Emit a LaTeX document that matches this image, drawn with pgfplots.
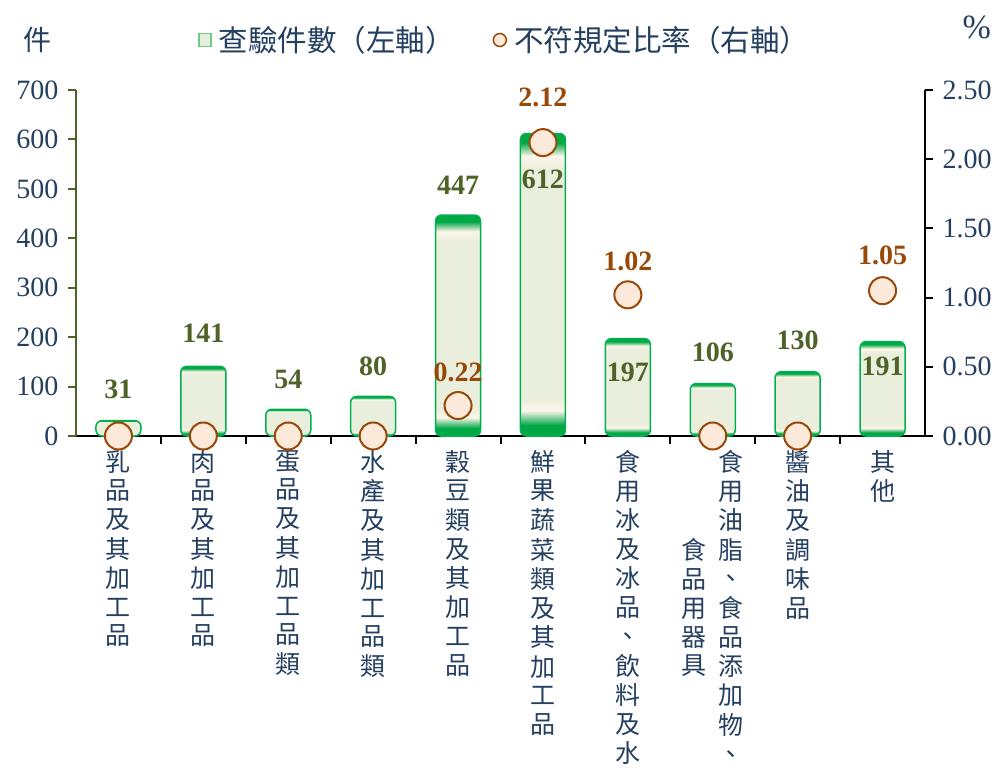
\documentclass[border=0pt]{standalone}
\usepackage{pgfplots}
\usepackage{pgfplotstable}
\pgfplotsset{compat=1.18}
\usepackage{fontspec}
\setmainfont{Liberation Serif}
\newfontfamily\cjk{Noto Sans CJK TC}
\definecolor{navy}{HTML}{243F60}
\definecolor{olivec}{HTML}{4F6228}
\definecolor{barfill}{HTML}{EAEEDC}
\definecolor{bardraw}{HTML}{00B050}
\definecolor{bardark}{HTML}{00A846}
\definecolor{cream}{HTML}{FDF5EA}
\definecolor{legfill}{HTML}{E6EEDC}
\definecolor{legdraw}{HTML}{6CCB8A}
\definecolor{mfill}{HTML}{FDE9D9}
\definecolor{mdraw}{HTML}{984807}
\pgfdeclareverticalshading{barshade}{100bp}{color(0bp)=(bardark); color(25bp)=(bardark); color(26.8bp)=(bardark); color(29.2bp)=(cream); color(31.2bp)=(barfill); color(69bp)=(barfill); color(71.3bp)=(cream); color(73.5bp)=(bardark); color(75bp)=(bardark); color(100bp)=(bardark)}
\newcommand{\vt}[2][t]{\begin{tabular}[#1]{@{}c@{}}#2\end{tabular}}
\pgfplotstableread{
x y off
0 0 0
1 0 0
2 0 0
3 0 0
4 0.22 33
5 2.12 45
6 1.02 33
7 0 0
8 0 0
9 1.05 35
}\ratetab
\pgfplotsset{base/.style={
  scale only axis, width=849pt, height=346pt,
  at={(76pt,333pt)}, anchor=south west,
  xmin=-0.5, xmax=9.5, clip=false,
  axis line style={-, line width=2pt},
  major tick length=8pt, minor tick length=8pt,
  tick align=outside,
  yticklabel style={font=\fontsize{28}{30}\selectfont, text=navy},
  /pgf/number format/assume math mode=true,
},
bars/.style={ybar, bar width=45pt, bar shift=0pt, draw=bardraw, line width=1.5pt,
  rounded corners=6pt, shading=barshade, point meta=y, nodes near coords,
  every node near coord/.append style={anchor=center, yshift=#1, font=\bfseries\fontsize{28}{30}\selectfont, text=olivec}},
}
\begin{document}
\begin{tikzpicture}
\useasboundingbox (0,0) rectangle (1007pt,769pt);
\begin{axis}[base,
  axis y line*=left, axis x line*=bottom,
  y axis line style={draw=olivec},
  ytick style={draw=olivec, line width=2pt},
  x axis line style={draw=black},
  ymin=0, ymax=700, ytick={0,100,...,700},
  yticklabel style={xshift=-6pt},
  xtick={0,...,9}, major x tick style={draw=none},
  minor xtick={0.5,1.5,...,8.5}, minor x tick style={draw=black, line width=2pt},
  xticklabel style={font=\cjk\fontsize{25}{28.7}\selectfont, text=navy, anchor=north, yshift=-6pt, inner sep=0pt},
  xticklabels={
    {\vt{乳\\品\\及\\其\\加\\工\\品}},
    {\vt{肉\\品\\及\\其\\加\\工\\品}},
    {\vt{蛋\\品\\及\\其\\加\\工\\品\\類}},
    {\vt{水\\產\\及\\其\\加\\工\\品\\類}},
    {\vt{穀\\豆\\類\\及\\其\\加\\工\\品}},
    {\vt{鮮\\果\\蔬\\菜\\類\\及\\其\\加\\工\\品}},
    {\vt{食\\用\\冰\\及\\冰\\品\\、\\飲\\料\\及\\水}},
    {\vt[c]{食\\品\\用\\器\\具}\hspace{12pt}\vt[c]{食\\用\\油\\脂\\、\\食\\品\\添\\加\\物\\、}},
    {\vt{醬\\油\\及\\調\\味\\品}},
    {\vt{其\\他}}
  },
]
\addplot[bars=31pt] coordinates {(0,31)};
\addplot[bars=33pt] coordinates {(1,141)};
\addplot[bars=30pt] coordinates {(2,54)};
\addplot[bars=30pt] coordinates {(3,80)};
\addplot[bars=30pt] coordinates {(4,447)};
\addplot[bars=-46pt] coordinates {(5,612)};
\addplot[bars=-34pt] coordinates {(6,197)};
\addplot[bars=31pt] coordinates {(7,106)};
\addplot[bars=31pt] coordinates {(8,130)};
\addplot[bars=-25pt] coordinates {(9,191)};
\node[font=\cjk\fontsize{28}{30}\selectfont, text=navy] at (rel axis cs:-0.045,1.145) {件};
\node[font=\fontsize{34}{36}\selectfont, text=navy] at (rel axis cs:1.061,1.18) {\%};
\end{axis}
\begin{axis}[base,
  axis y line*=right, axis x line=none,
  y axis line style={draw=black},
  ytick style={draw=black, line width=2pt},
  ymin=0, ymax=2.5, ytick={0,0.5,...,2.5},
  yticklabel style={xshift=6pt, /pgf/number format/fixed, /pgf/number format/fixed zerofill, /pgf/number format/precision=2},
  legend columns=2,
  legend style={at={(0.505,1.1445)}, anchor=center, draw=none, fill=none,
    font=\cjk\fontsize{29.5}{31}\selectfont, text=navy,
    /tikz/every even column/.append style={column sep=36pt},
    /tikz/every odd column/.append style={column sep=5pt}},
]
\addlegendimage{legend image code/.code={\draw[fill=legfill, draw=legdraw, line width=1.2pt] (-6pt,-6.5pt) rectangle (6pt,6.5pt);}}
\addlegendentry{查驗件數（左軸）}
\addplot[only marks, mark=*, mark size=13.5pt, mark options={fill=mfill, draw=mdraw, line width=2pt},
  legend image code/.code={\draw[fill=mfill, draw=mdraw, line width=1.5pt] (0pt,0pt) circle (6.5pt);},
  point meta=y,
  nodes near coords={\pgfmathfloatparsenumber{\pgfplotspointmeta}\pgfmathfloatifflags{\pgfmathresult}{0}{}{\pgfmathprintnumber[fixed,fixed zerofill,precision=2]{\pgfplotspointmeta}}},
  visualization depends on={\thisrow{off} \as \off},
  every node near coord/.append style={anchor=center, yshift=\off pt, font=\bfseries\fontsize{28}{30}\selectfont, text=mdraw}]
  table[x=x, y=y]{\ratetab};
\addlegendentry{不符規定比率（右軸）}
\end{axis}
\end{tikzpicture}
\end{document}
